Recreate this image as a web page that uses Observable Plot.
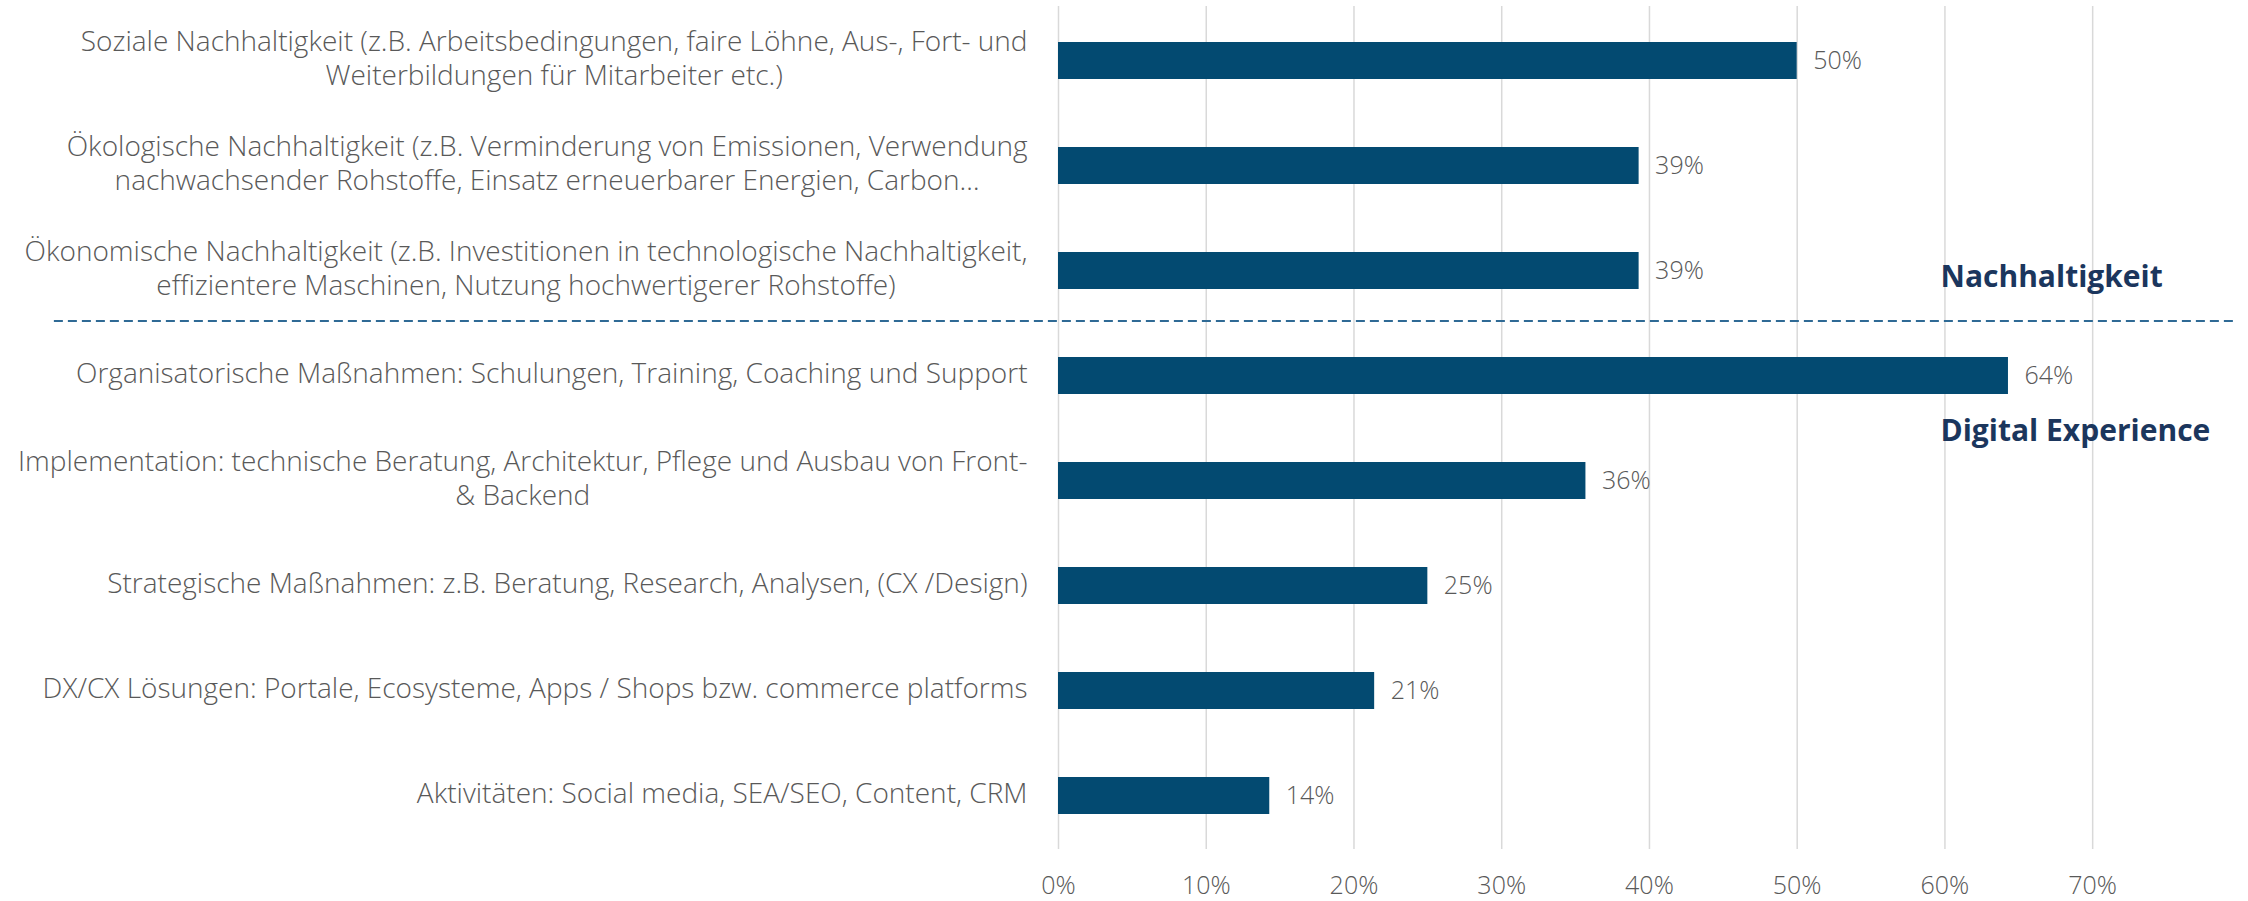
<!DOCTYPE html>
<html><head><meta charset="utf-8">
<script src="https://cdn.jsdelivr.net/npm/d3@7"></script>
<script src="https://cdn.jsdelivr.net/npm/@observablehq/plot@0.6"></script>
<style>
body{margin:0;background:#fff;}
</style></head><body><div id="chart"></div>
<script>
const categories = [
 "Soziale Nachhaltigkeit (z.B. Arbeitsbedingungen, faire Löhne, Aus-, Fort- und\nWeiterbildungen für Mitarbeiter etc.)",
 "Ökologische Nachhaltigkeit (z.B. Verminderung von Emissionen, Verwendung\nnachwachsender Rohstoffe, Einsatz erneuerbarer Energien, Carbon…",
 "Ökonomische Nachhaltigkeit (z.B. Investitionen in technologische Nachhaltigkeit,\neffizientere Maschinen, Nutzung hochwertigerer Rohstoffe)",
 "Organisatorische Maßnahmen: Schulungen, Training, Coaching und Support",
 "Implementation: technische Beratung, Architektur, Pflege und Ausbau von Front-\n& Backend",
 "Strategische Maßnahmen: z.B. Beratung, Research, Analysen, (CX /Design)",
 "DX/CX Lösungen: Portale, Ecosysteme, Apps / Shops bzw. commerce platforms",
 "Aktivitäten: Social media, SEA/SEO, Content, CRM"
];
const values = [0.50, 0.393, 0.393, 0.643, 0.357, 0.25, 0.214, 0.143];
const valueLabels = ["50%", "39%", "39%", "64%", "36%", "25%", "21%", "14%"];
const xTicks = [0, 0.1, 0.2, 0.3, 0.4, 0.5, 0.6, 0.7];
const xTickLabels = ["0%", "10%", "20%", "30%", "40%", "50%", "60%", "70%"];
const groupLabels = ["Nachhaltigkeit", "Digital Experience"];
const groupAnchorCategory = [categories[2], categories[3]];
const groupLabelX = 0.597;
const separatorCategory = categories[3];
const separatorX = [-0.68, 0.796];

const rows = categories.map((c, i) => ({cat: c, value: values[i], label: valueLabels[i]}));

const plot = Plot.plot({
  width: 2248, height: 901,
  marginLeft: 1058, marginRight: 14, marginTop: 6, marginBottom: 52,
  style: {fontFamily: "'Open Sans', sans-serif", fontSize: "24px", color: "#595959", background: "#ffffff"},
  x: {domain: [0, 0.796], label: null},
  y: {domain: categories, paddingInner: 0.65, paddingOuter: 0.325, label: null},
  marks: [
    Plot.gridX(xTicks, {stroke: "#d9d9d9", strokeOpacity: 1, strokeWidth: 1.5}),
    Plot.axisX({ticks: xTicks, tickFormat: d => xTickLabels[xTicks.indexOf(d)], tickSize: 0, tickPadding: 27, fontSize: 25, fill: "#595959", fontWeight: 300}),
    Plot.axisY({tickSize: 0, tickPadding: 31, dy: -4, fontSize: 28, lineHeight: 1.23, fill: "#595959", fontWeight: 300, textOverflow: null}),
    Plot.barX(rows, {x: "value", y: "cat", fill: "#034a71"}),
    Plot.text(rows, {x: "value", y: "cat", text: "label", textAnchor: "start", dx: 16, fill: "#595959", fontSize: 25, fontWeight: 300}),
    Plot.link([separatorCategory], {x1: () => separatorX[0], x2: () => separatorX[1], y1: d => d, y2: d => d, dy: -55, stroke: "#2f6a95", strokeWidth: 2, strokeDasharray: "9,5", clip: false}),
    Plot.text([groupLabels[0]], {x: () => groupLabelX, y: () => groupAnchorCategory[0], text: d => d, dy: 6, textAnchor: "start", fill: "#1b365d", fontSize: 30, fontWeight: "bold"}),
    Plot.text([groupLabels[1]], {x: () => groupLabelX, y: () => groupAnchorCategory[1], text: d => d, dy: 55, textAnchor: "start", fill: "#1b365d", fontSize: 30, fontWeight: "bold"})
  ]
});
document.getElementById("chart").appendChild(plot);

// centre the lines of multi-line category labels within their block (as in the original)
function centreLabels() {
  plot.querySelectorAll('g[aria-label="y-axis tick label"] text').forEach(t => {
    const spans = Array.from(t.querySelectorAll("tspan"));
    if (spans.length > 1) {
      spans.forEach(s => s.setAttribute("x", 0));
      const lens = spans.map(s => s.getComputedTextLength());
      const m = Math.max(...lens);
      spans.forEach((s, i) => s.setAttribute("x", -(m - lens[i]) / 2));
    }
  });
}
centreLabels();
if (document.fonts && document.fonts.ready) document.fonts.ready.then(centreLabels);
</script>
</body></html>
